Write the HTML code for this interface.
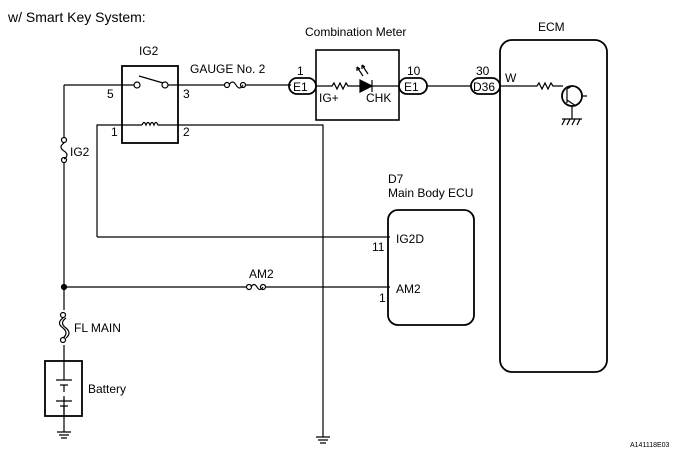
<!DOCTYPE html>
<html><head><style>
body{margin:0;background:#fff}
svg{display:block}
text{font-family:"Liberation Sans",Arial,sans-serif;fill:#000}
</style></head><body>
<svg width="681" height="455" viewBox="0 0 681 455" xmlns="http://www.w3.org/2000/svg">
<g stroke="#000" stroke-width="1.2" fill="none">
<!-- relay -->
<rect x="122" y="66" width="56" height="77" stroke-width="1.8"/>
<!-- left bus -->
<path d="M64 85V138 M64 162V310 M64 345V380 M64 398V432 M64 85H134"/>
<circle cx="137" cy="85" r="3" fill="#fff"/>
<circle cx="165" cy="85" r="3" fill="#fff"/>
<path d="M139 76L163 83"/>
<path d="M168 85H225 M245 85H291"/>
<circle cx="227" cy="85" r="2.5" fill="#fff"/>
<circle cx="243" cy="85" r="2.5" fill="#fff"/>
<path d="M229 85q3.5-6 7 0q3.5 6 7 0"/>
<!-- IG2 fuse -->
<circle cx="64" cy="140" r="2.5" fill="#fff"/>
<circle cx="64" cy="160" r="2.5" fill="#fff"/>
<path d="M64 143q-6 4 0 8q6 4 0 8"/>
<!-- coil wire -->
<path d="M97 237V125H142 M160 125H323V437 M97 237H390"/>
<path d="M142 125q2-5 4 0q2-5 4 0q2-5 4 0q2-5 4 0q0 0 2 0"/>
<!-- AM2 -->
<circle cx="64" cy="287" r="2.5" fill="#000"/>
<path d="M64 287H246 M266 287H390"/>
<circle cx="249" cy="287" r="2.5" fill="#fff"/>
<circle cx="263" cy="287" r="2.5" fill="#fff"/>
<path d="M251 287q3-5 6 0q3 5 6 0"/>
<!-- FL MAIN -->
<circle cx="63" cy="315" r="2.5" fill="#fff"/>
<circle cx="63" cy="340" r="2.5" fill="#fff"/>
<path d="M63 318q-7 5 0 10q6 5 0 10 M66 318q-7 5 0 10q6 5 0 10"/>
<!-- Battery -->
<rect x="45" y="361" width="37" height="55" stroke-width="1.8"/>
<path d="M56 380H72 M60 385H68 M64 385V392 M64 396V401 M56 401H72 M60 406H68 M64 406V416"/>
<path d="M57 432H71 M59 435H69 M61 438H67"/>
<path d="M316 437H330 M318 440H328 M320 443H326"/>
<!-- E1 left -->
<rect x="289" y="78" width="27" height="16" rx="8" stroke-width="1.8"/>
<!-- comb meter -->
<rect x="316" y="50" width="83" height="70" stroke-width="1.6"/>
<path d="M316 86H332l2-3 3 6 3-6 3 6 3-6 2 3H360 M372 86H399"/>
<path d="M360 80L372 86L360 92Z" fill="#000"/>
<path d="M372 80V92"/>
<path d="M363 76L357 67 M368 74L362 65"/>
<path d="M357 67l0 4 M357 67l3 2 M362 65l0 4 M362 65l3 2"/>
<rect x="399" y="78" width="28" height="16" rx="8" stroke-width="1.8"/>
<path d="M427 86H471"/>
<rect x="471" y="78" width="29" height="16" rx="8" stroke-width="1.8"/>
<!-- ECM -->
<rect x="500" y="40" width="107" height="332" rx="12" stroke-width="1.8"/>
<path d="M500 86H537l2-3 3 6 3-6 3 6 3-6 2 3H563"/>
<circle cx="572" cy="96" r="10" stroke-width="1.8"/>
<path d="M567 89V103 M567 89L572 86 M567 100L576 106 M582 96H587 M572 106V119 M562 119H582 M565 119l-3 6 M570 119l-3 6 M575 119l-3 6 M580 119l-3 6"/>
<!-- main body ECU -->
<rect x="388" y="210" width="86" height="115" rx="10" stroke-width="1.8"/>
</g>
<text x="8" y="22" font-size="14">w/ Smart Key System:</text>
<text x="139" y="55" font-size="12">IG2</text>
<text x="190" y="73" font-size="12">GAUGE No. 2</text>
<text x="107" y="98" font-size="12">5</text>
<text x="183" y="98" font-size="12">3</text>
<text x="111" y="136" font-size="12">1</text>
<text x="183" y="136" font-size="12">2</text>
<text x="70" y="156" font-size="12">IG2</text>
<text x="297" y="75" font-size="12">1</text>
<text x="293" y="91" font-size="12">E1</text>
<text x="305" y="36" font-size="12">Combination Meter</text>
<text x="319" y="102" font-size="12">IG+</text>
<text x="366" y="102" font-size="12">CHK</text>
<text x="407" y="75" font-size="12">10</text>
<text x="404" y="91" font-size="12">E1</text>
<text x="476" y="75" font-size="12">30</text>
<text x="473" y="91" font-size="12">D36</text>
<text x="505" y="82" font-size="12">W</text>
<text x="538" y="31" font-size="12">ECM</text>
<text x="388" y="183" font-size="12">D7</text>
<text x="388" y="197" font-size="12">Main Body ECU</text>
<text x="396" y="243" font-size="12">IG2D</text>
<text x="372" y="251" font-size="12">11</text>
<text x="396" y="293" font-size="12">AM2</text>
<text x="379" y="302" font-size="12">1</text>
<text x="249" y="278" font-size="12">AM2</text>
<text x="74" y="332" font-size="12">FL MAIN</text>
<text x="88" y="393" font-size="12">Battery</text>
<text x="630" y="447" font-size="7">A141118E03</text>
</svg>
</body></html>
